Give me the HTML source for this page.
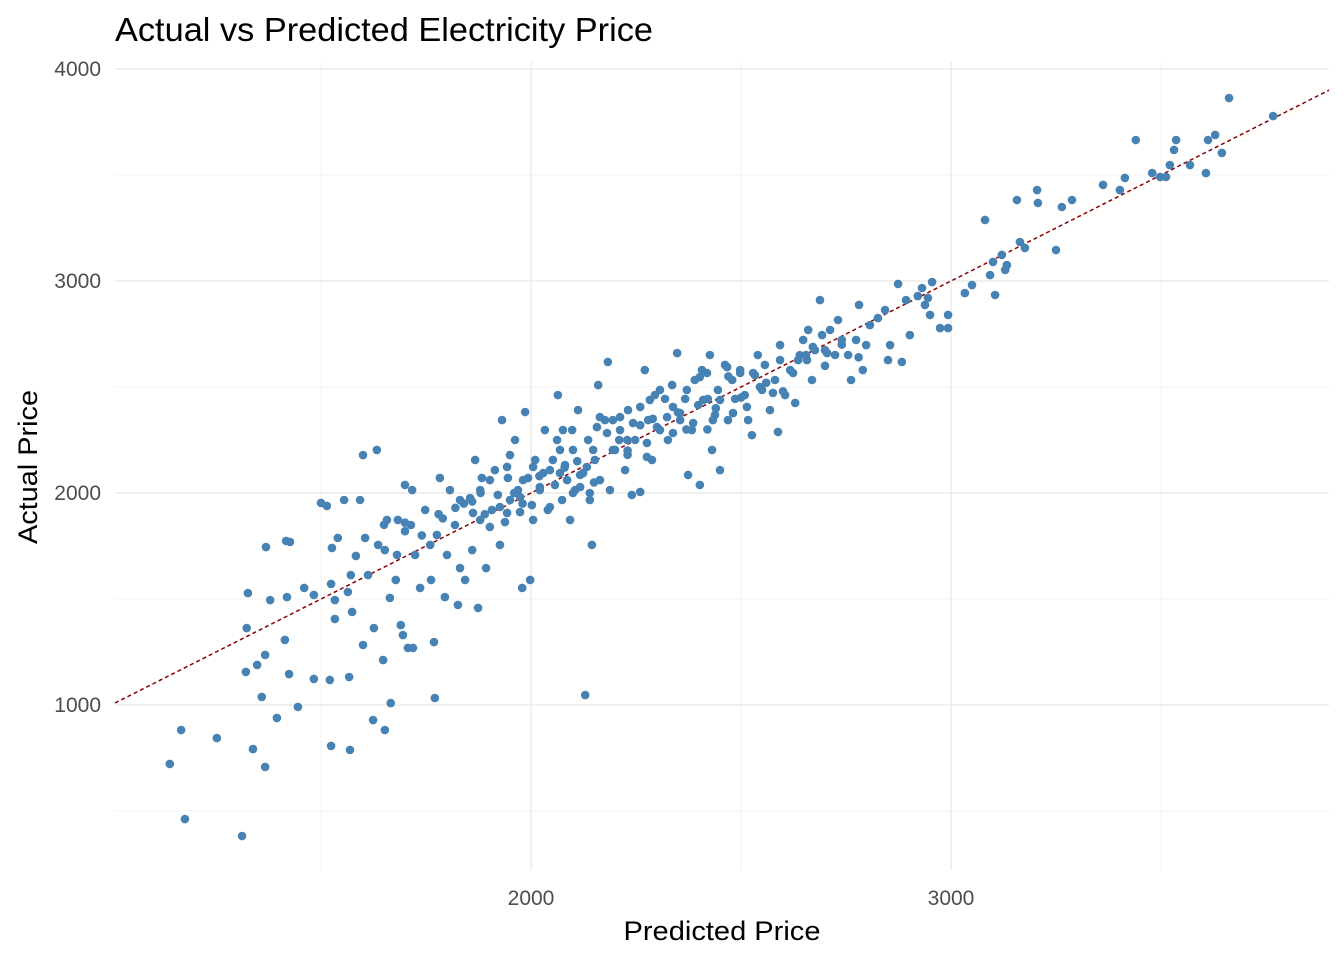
<!DOCTYPE html>
<html><head><meta charset="utf-8"><style>
body{margin:0;background:#fff;}
svg text{font-family:"Liberation Sans",Arial,sans-serif;}
</style></head><body>
<svg id="chart" width="1344" height="960" xmlns="http://www.w3.org/2000/svg">
<rect width="1344" height="960" fill="#fff"/>
<text x="115" y="41" font-size="33" fill="#000" textLength="538" lengthAdjust="spacingAndGlyphs">Actual vs Predicted Electricity Price</text>
<g id="grid"></g>
<g id="ticks"></g>
<line id="refline" stroke="#8B0000" stroke-width="1.5" stroke-dasharray="4,3"/>
<g id="pts"></g>
<text x="722" y="940" font-size="27" text-anchor="middle" fill="#000" textLength="197" lengthAdjust="spacingAndGlyphs">Predicted Price</text>
<text transform="translate(37,467) rotate(-90)" font-size="27" text-anchor="middle" fill="#000" textLength="154" lengthAdjust="spacingAndGlyphs">Actual Price</text>
</svg>
<script>
const xTicks=[2000,3000];
const xMinor=[1500,2500,3500];
const yTicks=[1000,2000,3000,4000];
const yMinor=[500,1500,2500,3500];
const predicted=[1140,1167,1176,1252,1312,1338,1367,1321,1323,1326,1348,1359,1367,1369,1379,1395,1414,1424,1419,1417,1426,1445,1460,1483,1483,1500,1514,1521,1524,1524,1526,1533,1533,1540,1555,1564,1567,1569,1571,1574,1583,1593,1600,1600,1605,1612,1624,1626,1633,1636,1648,1652,1652,1657,1664,1666,1678,1681,1683,1690,1695,1700,1707,1714,1717,1719,1724,1736,1748,1760,1762,1771,1769,1776,1783,1795,1800,1807,1819,1826,1831,1843,1855,1860,1867,1874,1879,1883,1893,1902,1907,1914,1921,1926,1931,1938,1945,1950,1950,1962,1969,1974,1979,1986,1993,1998,2002,2010,2021,2033,2040,2045,2057,2064,2069,2074,2081,2093,2098,2105,2112,2117,2129,2136,2140,2145,2152,2160,2164,2176,2183,2188,2200,2212,2224,2231,2240,2248,2260,2271,2279,2288,2295,2307,2319,2326,2336,2348,2355,2367,2374,2383,2390,2398,2402,2407,2421,2426,2431,2438,2445,2450,2462,2469,2479,2486,2498,2509,2517,2526,2533,2540,2550,2557,2569,2581,2588,2593,2605,2617,2629,2636,2648,2655,2660,2669,2676,2688,2693,2700,2712,2724,2731,2740,2755,2762,2774,2781,2790,2798,2807,2826,2843,2850,2855,2874,2883,2893,2902,2921,2931,2938,2945,2950,2955,2974,2993,2993,3033,3050,3081,3093,3100,3105,3121,3129,3133,3157,3164,3176,3205,3207,3250,3264,3288,3362,3402,3414,3440,3479,3498,3512,3521,3531,3536,3569,3607,3612,3629,3645,3662,3767,
1650,1700,1780,1840,1960,2110,2210,2370,2440,2500,2080,2150,2230,2290,2350,2420,2470,1880,1980,2020,
1831,1879,1902,1926,1974,1981,2021,2029,2052,2062,2076,2086,2100,2117,2124,2140,2148,2157,2164,2181,2195,2212,2229,2243,2260,2276,2283,2300,2307,2324,2338,2355,2371,2386,2402,2410,2419,2433,2450,2467,2481,2498,2514,2529,2545,2576,2593,2624,2657,2671,2705,2045,2005,1943,1862,2133,2100,2069,2005,1943,2195,2276,2338,
1700,1740,1790,1820,1860,1890,2230,2260,2560,2600,2640,2700,2740,2780];
const actual=[722,882,462,844,382,792,708,1156,1363,1528,1189,1038,1236,1745,1495,939,1307,1146,1509,1774,1769,991,1552,1123,1519,1953,1939,1118,807,1571,1741,1495,1406,1788,1967,1533,1132,788,1613,1439,1703,1967,1283,2179,1788,1613,929,1363,2203,1755,1212,882,1731,1873,1505,1009,1590,1708,1873,1377,1330,2038,1269,1849,2014,1269,1708,1552,1920,1755,1590,1033,1297,1802,2071,1509,1708,2014,1849,1472,1646,1590,1976,1731,2156,1458,1873,2071,1646,1840,1920,2108,1991,1755,2344,1863,2071,2179,1967,2250,2014,1910,1552,2382,2071,1590,1943,2156,2014,2297,1920,2108,2038,2462,2203,1967,2132,1873,2297,2014,2391,2085,1047,2250,1967,1755,2156,2509,2061,2344,2618,2014,2203,2297,2108,2391,1991,2250,2005,2580,2344,2156,2462,2297,2444,2250,2509,2660,2344,2444,2085,2297,2533,2415,2038,2580,2444,2651,2203,2368,2486,2108,2604,2344,2533,2444,2580,2462,2344,2273,2556,2651,2486,2604,2391,2533,2288,2698,2462,2580,2425,2627,2722,2651,2769,2533,2674,2910,2745,2674,2769,2651,2816,2722,2651,2533,2722,2887,2580,2698,2792,2825,2863,2627,2698,2986,2618,2910,2745,2929,2967,2887,2920,2840,2995,2778,2840,2778,2943,2981,3288,3028,3090,2934,3123,3052,3075,3382,3184,3156,3429,3368,3146,3349,3382,3453,3429,3486,3665,3509,3491,3491,3547,3618,3665,3547,3509,3665,3689,3604,3863,3778,
1850,1820,1900,1950,2000,2150,2250,2300,2400,2450,2120,2050,2200,2350,2380,2300,2550,2000,1950,2080,
1967,2014,2061,1934,1981,2061,2028,2094,2156,2250,2297,2061,2000,2028,2094,2000,2203,2311,2358,2283,2344,2358,2250,2330,2406,2236,2439,2311,2486,2358,2283,2377,2486,2330,2547,2439,2566,2344,2439,2594,2377,2566,2406,2566,2500,2472,2627,2566,2627,2689,2660,1934,1873,1906,1906,2123,2203,2094,2123,2123,2203,2170,2406,
1860,1800,1880,1930,1960,1900,2180,2320,2520,2480,2650,2600,2700,2640];
const X0=531,XS=0.42,Y0=493,YS=0.212;
const xs=v=>X0+(v-2000)*XS, ys=v=>Y0-(v-2000)*YS;
const NS="http://www.w3.org/2000/svg";
const L=115,R=1329,T=62,B=870;
const grid=document.getElementById('grid'),ticks=document.getElementById('ticks'),pts=document.getElementById('pts');
function ln(g,x1,y1,x2,y2,c,w){const e=document.createElementNS(NS,'line');e.setAttribute('x1',x1);e.setAttribute('y1',y1);e.setAttribute('x2',x2);e.setAttribute('y2',y2);e.setAttribute('stroke',c);e.setAttribute('stroke-width',w);g.appendChild(e);return e;}
xMinor.forEach(v=>{const e=ln(grid,xs(v),T,xs(v),B,'#f3f3f3',1);

});
yMinor.forEach(v=>{const e=ln(grid,L,ys(v),R,ys(v),'#f3f3f3',1);

});
xTicks.forEach(v=>{const e=ln(grid,xs(v),T,xs(v),B,'#ebebeb',1.5);


const t=document.createElementNS(NS,'text');t.setAttribute('x',xs(v));t.setAttribute('y',905);t.setAttribute('text-anchor','middle');t.setAttribute('font-size','21');t.setAttribute('fill','#4d4d4d');t.textContent=v;


ticks.appendChild(t);});
yTicks.forEach(v=>{const e=ln(grid,L,ys(v),R,ys(v),'#ebebeb',1.5);


const t=document.createElementNS(NS,'text');t.setAttribute('x',101);t.setAttribute('y',ys(v)+7);t.setAttribute('text-anchor','end');t.setAttribute('font-size','21');t.setAttribute('fill','#4d4d4d');t.textContent=v;


ticks.appendChild(t);});
const rl=document.getElementById('refline');
const lo=(L-X0)/XS+2000, hi=(R-X0)/XS+2000;
rl.setAttribute('x1',xs(lo));rl.setAttribute('y1',ys(lo));rl.setAttribute('x2',xs(hi));rl.setAttribute('y2',ys(hi));
predicted.forEach((p,i)=>{const c=document.createElementNS(NS,'circle');c.setAttribute('cx',xs(p));c.setAttribute('cy',ys(actual[i]));c.setAttribute('r',4.3);c.setAttribute('fill','#4682B4');


pts.appendChild(c);});
</script>
</body></html>
